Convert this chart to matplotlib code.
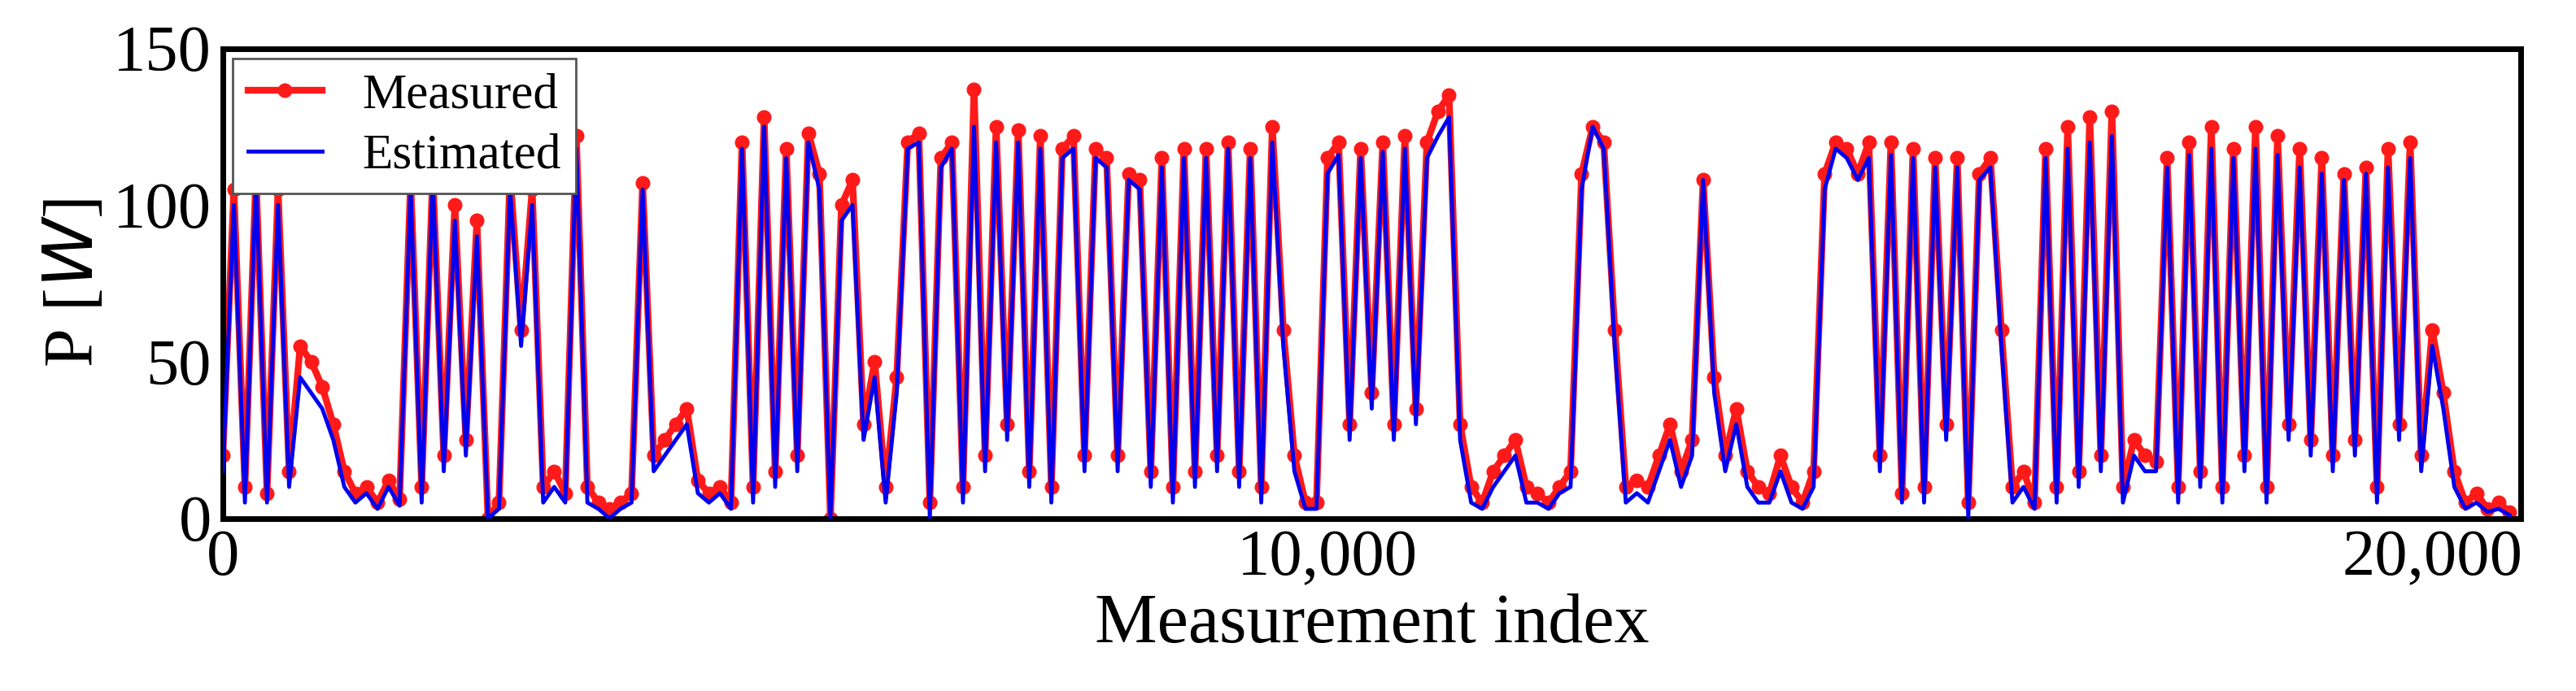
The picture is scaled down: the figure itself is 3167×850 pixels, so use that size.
import matplotlib
matplotlib.use("Agg")
import matplotlib.pyplot as plt
import numpy as np

step = 100
measured = [
 20,105,10,110,8,105,15,55,50,42,
 30,15,8,10,5,12,6,108,10,110,
 20,100,25,95,0,5,110,60,105,10,
 15,8,122,10,5,3,5,8,107,20,
 25,30,35,12,8,10,5,120,10,128,
 15,118,20,123,110,0,100,108,30,50,
 10,45,120,123,5,115,120,10,137,20,
 125,30,124,15,122,10,118,122,20,118,
 115,20,110,108,15,115,10,118,15,118,
 20,120,15,118,10,125,60,20,5,5,
 115,120,30,118,40,120,30,122,35,120,
 130,135,30,10,5,15,20,25,10,8,
 5,10,15,110,125,120,60,10,12,10,
 20,30,15,25,108,45,20,35,15,10,
 8,20,10,5,15,110,120,118,110,120,
 20,120,8,118,10,115,30,115,5,110,
 115,60,10,15,5,118,10,125,15,128,
 20,130,10,25,20,18,115,10,120,15,
 125,10,118,20,125,10,122,30,118,25,
 115,20,110,25,112,10,118,30,120,20,
 60,40,15,5,8,3,5,2]
estimated = [
 15,100,5,108,5,100,10,45,40,35,
 25,10,5,8,3,10,4,105,5,108,
 15,95,20,90,0,3,105,55,100,5,
 10,5,118,5,3,0,3,5,105,15,
 20,25,30,8,5,8,3,118,5,125,
 10,115,15,120,105,0,95,100,25,45,
 5,40,118,120,0,112,118,5,125,15,
 120,25,120,10,118,5,115,118,15,115,
 112,15,108,105,10,112,5,115,10,115,
 15,118,10,115,5,120,55,15,3,3,
 110,116,25,115,35,117,25,118,30,115,
 122,128,25,5,3,10,15,20,5,5,
 3,8,10,105,125,118,55,5,8,5,
 15,25,10,20,108,40,15,30,10,5,
 5,15,5,3,10,105,118,115,108,115,
 15,116,5,115,5,112,25,112,0,108,
 112,55,5,10,3,115,5,118,10,120,
 15,122,5,20,15,15,112,5,116,10,
 118,5,115,15,118,5,116,25,112,20,
 110,15,108,20,110,5,112,25,115,15,
 55,35,10,3,5,2,3,1]

x = np.arange(len(measured)) * step

plt.rcParams['font.family'] = ['Liberation Serif', 'DejaVu Serif']
fig = plt.figure(figsize=(31.67, 8.5), dpi=100)
ax = fig.add_axes([0.0865, 0.25, 0.892, 0.68])
ax.plot(x, measured, color='#ff1a1a', lw=6, marker='o', ms=12, label='Measured', zorder=2)
ax.plot(x, estimated, color='#0000ee', lw=3.5, label='Estimated', zorder=3)
ax.set_xlim(0, 20800)
ax.set_ylim(0, 150)
ax.set_xticks([0, 10000, 20000])
ax.set_xticklabels(['0', '10,000', '20,000'])
ax.set_yticks([0, 50, 100, 150])
ax.tick_params(length=0, labelsize=58, pad=10)
for s in ax.spines.values():
    s.set_linewidth(5)
ax.set_xlabel('Measurement index', fontsize=62, labelpad=4)
ax.set_ylabel('P [$W$]', fontsize=62)
leg = ax.legend(loc='upper left', fontsize=44, frameon=True, fancybox=False,
                edgecolor='#555555', handlelength=1.5, borderpad=0.3, labelspacing=0.3,
                borderaxespad=0.2, framealpha=1)
leg.get_frame().set_linewidth(2)
fig.savefig('out.png', dpi=100)
